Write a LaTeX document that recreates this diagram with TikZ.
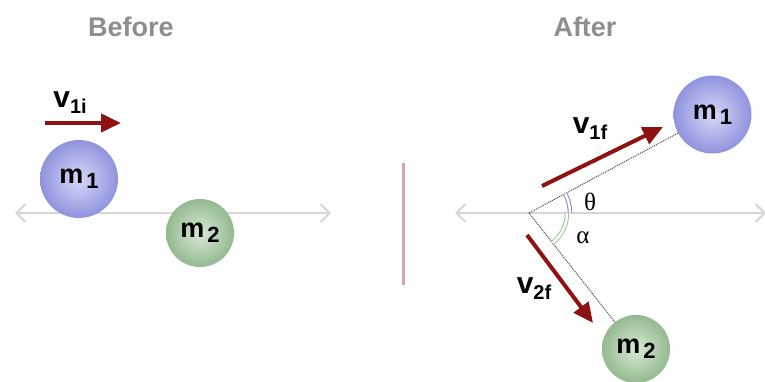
\documentclass[tikz,border=0pt]{standalone}
\usepackage{fontspec}
\setmainfont{Liberation Sans}
\newfontfamily\serifgreek{Liberation Serif}
\usetikzlibrary{arrows.meta,calc}
\definecolor{axisgray}{HTML}{D6D6D6}
\definecolor{titlegray}{HTML}{8E8E8E}
\definecolor{velred}{HTML}{8E1212}
\definecolor{divpink}{HTML}{DDA3AA}
\definecolor{blueedge}{HTML}{8F93DE}
\definecolor{bluein}{HTML}{D6D9F7}
\definecolor{greenedge}{HTML}{94B990}
\definecolor{greenin}{HTML}{D8EAD4}
\definecolor{linkgray}{HTML}{444444}
\definecolor{thetablue}{HTML}{8585CF}
\definecolor{alphagreen}{HTML}{96C896}
\newcommand\mlab[1]{\fontsize{27}{27}\selectfont\bfseries m\kern3pt\raisebox{-5pt}{\fontsize{22}{22}\selectfont #1}}
\newcommand\vlab[1]{\fontsize{30}{30}\selectfont\bfseries v\raisebox{-6pt}{\fontsize{20}{20}\selectfont #1}}
\begin{document}
\begin{tikzpicture}[x=1pt,y=-1pt,
  axisline/.style={draw=axisgray, line width=2.5pt,
    {Straight Barb[length=9pt,width=18pt,line width=2pt]}-{Straight Barb[length=9pt,width=18pt,line width=2pt]}},
  vel/.style={draw=velred, line width=4pt, -{Triangle[length=20pt,width=18pt]}},
  ballblue/.style={circle, inner sep=0pt, shading=radial, inner color=bluein, outer color=blueedge},
  ballgreen/.style={circle, inner sep=0pt, shading=radial, inner color=greenin, outer color=greenedge},
  titletext/.style={text=titlegray, font=\fontsize{27}{27}\selectfont\bfseries},
  link/.style={draw=linkgray, line width=1pt, densely dotted},
  divider/.style={draw=divpink, line width=3pt},
  greek/.style={font=\serifgreek\fontsize{25}{25}\selectfont},
  anglearc/.style={line width=1pt, double=white, double distance=2.5pt}
]
\useasboundingbox (0,0) rectangle (765,381);
% titles
\node[titletext] (before) at (131,27) {Before};
\node[titletext] (after) at (585,27) {After};
% before
\coordinate (la) at (15,213);
\coordinate (lb) at (331,213);
\draw[axisline] (la) -- (lb);
\node[ballblue, minimum size=78pt] (m1a) at (79,179) {\mlab{1}};
\node[ballgreen, minimum size=68pt] (m2a) at (200,233) {\mlab{2}};
\coordinate (v1s) at (45,123);
\coordinate (v1e) at (121,123);
\draw[vel] (v1s) -- (v1e);
\node (v1ilab) at (70,103) {\vlab{1i}};
% divider
\coordinate (dt) at (403,163);
\coordinate (db) at (403,285);
\draw[divider] (dt) -- (db);
% after
\coordinate (ra) at (455,213);
\coordinate (rb) at (766,213);
\draw[axisline] (ra) -- (rb);
\coordinate (o) at (529,213);
\node[ballblue, minimum size=78pt] (m1b) at (712.5,114.5) {\mlab{1}};
\node[ballgreen, minimum size=68pt] (m2b) at (636,349) {\mlab{2}};
\draw[link] (o) -- (m1b);
\draw[link] (o) -- (m2b);
\draw[anglearc, draw=thetablue] ($(o)+(41,0)$) arc[start angle=0, end angle=-28.2, radius=41];
\draw[anglearc, draw=alphagreen] ($(o)+(38,0)$) arc[start angle=0, end angle=51.8, radius=38];
\node[greek] (th) at (590,202) {θ};
\node[greek] (al) at (583,238) {α};
\coordinate (v1fs) at (542,186);
\coordinate (v1fe) at (663,127);
\draw[vel] (v1fs) -- (v1fe);
\node (v1flab) at (590,129) {\vlab{1f}};
\coordinate (v2fs) at (527,235);
\coordinate (v2fe) at (593,323);
\draw[vel] (v2fs) -- (v2fe);
\node (v2flab) at (534,289) {\vlab{2f}};
\end{tikzpicture}
\end{document}
